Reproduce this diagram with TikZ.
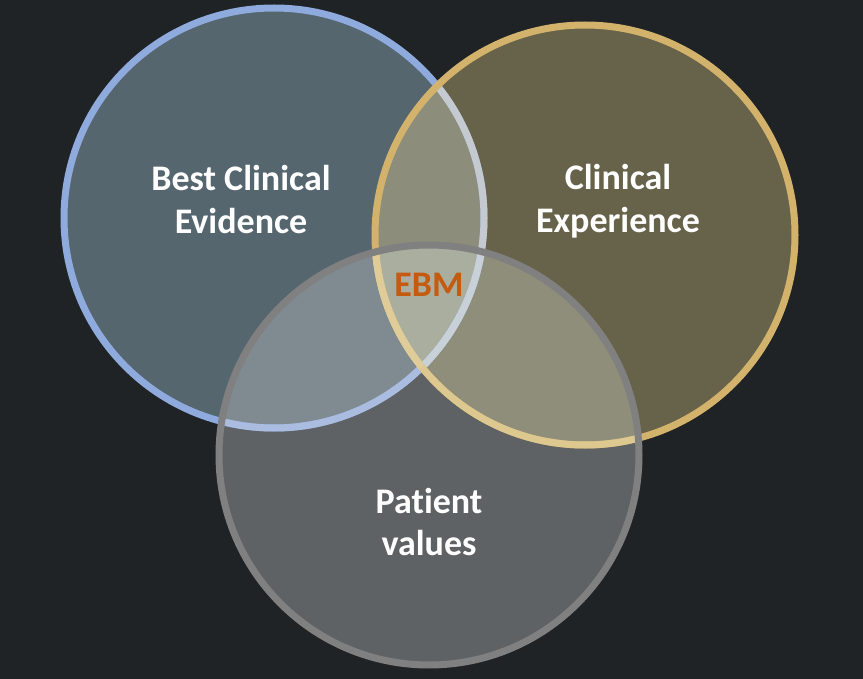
\documentclass[tikz,border=0pt]{standalone}
\usepackage{fontspec}
\setmainfont[Ligatures=NoCommon]{Carlito}
\definecolor{bgc}{HTML}{1F2326}
\definecolor{bfill}{HTML}{55666F}
\definecolor{gfill}{HTML}{67624A}
\definecolor{pfill}{HTML}{5F6264}
\definecolor{bgfill}{HTML}{8C8D7A}
\definecolor{bpfill}{HTML}{7F8B91}
\definecolor{gpfill}{HTML}{8F8E7B}
\definecolor{allfill}{HTML}{AAAE9E}
\definecolor{bline}{HTML}{8FAADC}
\definecolor{blineg}{HTML}{C4CAD0}
\definecolor{blinep}{HTML}{AABDE0}
\definecolor{blinegp}{HTML}{C8D0D8}
\definecolor{gline}{HTML}{D3B36B}
\definecolor{glinep}{HTML}{DDC88F}
\definecolor{glinebp}{HTML}{E0CC98}
\definecolor{pline}{HTML}{808080}
\definecolor{ebm}{HTML}{C55A11}
\tikzset{
  ring/.style={line width=7pt},
  lbl/.style={text=white, font=\bfseries\fontsize{36}{43}\selectfont, align=center, inner sep=0pt},
}
\begin{document}
\begin{tikzpicture}[x=1pt,y=-1pt]
\fill[bgc] (0,0) rectangle (863,679);
\useasboundingbox (0,0) rectangle (863,679);
\coordinate (B) at (274,218);
\coordinate (G) at (585,235);
\coordinate (P) at (429,455);
\def\R{210pt}
% single fills
\fill[bfill] (B) circle[radius=\R];
\fill[gfill] (G) circle[radius=\R];
\fill[pfill] (P) circle[radius=\R];
% pairwise overlaps
\begin{scope}\clip (B) circle[radius=\R]; \fill[bgfill] (G) circle[radius=\R];\end{scope}
\begin{scope}\clip (B) circle[radius=\R]; \fill[bpfill] (P) circle[radius=\R];\end{scope}
\begin{scope}\clip (G) circle[radius=\R]; \fill[gpfill] (P) circle[radius=\R];\end{scope}
\begin{scope}\clip (B) circle[radius=\R]; \clip (G) circle[radius=\R]; \fill[allfill] (P) circle[radius=\R];\end{scope}
% blue ring
\draw[ring, bline] (B) circle[radius=\R];
\begin{scope}\clip (G) circle[radius=\R]; \draw[ring, blineg] (B) circle[radius=\R];\end{scope}
\begin{scope}\clip (P) circle[radius=\R]; \draw[ring, blinep] (B) circle[radius=\R];\end{scope}
\begin{scope}\clip (G) circle[radius=\R]; \clip (P) circle[radius=\R]; \draw[ring, blinegp] (B) circle[radius=\R];\end{scope}
% gold ring
\draw[ring, gline] (G) circle[radius=\R];
\begin{scope}\clip (P) circle[radius=\R]; \draw[ring, glinep] (G) circle[radius=\R];\end{scope}
\begin{scope}\clip (P) circle[radius=\R]; \clip (B) circle[radius=\R]; \draw[ring, glinebp] (G) circle[radius=\R];\end{scope}
% gray ring
\draw[ring, pline] (P) circle[radius=\R];
% labels
\node[lbl] (tb) at (241,200) {Best Clinical\\Evidence};
\node[lbl] (tg) at (618,201) {Clinical\\Experience};
\node[lbl] (tp) at (429,522) {Patient\\values};
\node[lbl, text=ebm] (te) at (429,285) {EBM};
\end{tikzpicture}
\end{document}
